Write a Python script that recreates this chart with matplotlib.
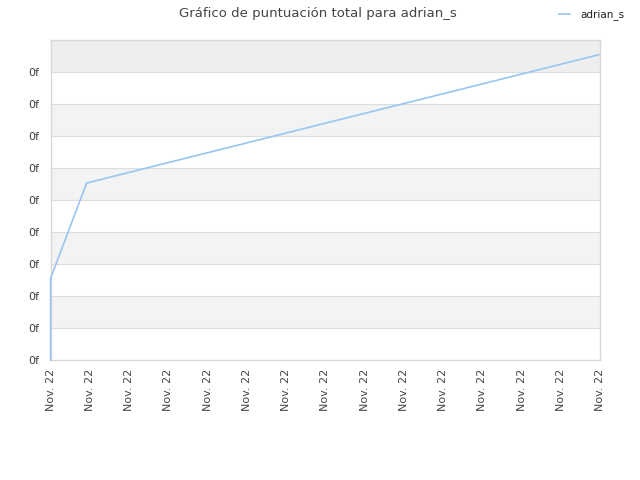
import matplotlib
matplotlib.use("Agg")
import matplotlib.pyplot as plt

# datos
tick_labels = ["Nov. 22"] * 15
y_tick_labels = ["0f"] * 10
puntos_x = [0, 0, 0.92, 13.97]
puntos_y = [0, 2.55, 5.53, 9.54]
serie = "adrian_s"

fig = plt.figure(figsize=(6.4, 4.8), dpi=100)
ax = fig.add_axes([0.079, 0.25, 0.8585, 0.6667])

# bandas alternas
for i in range(10):
    if i == 9:
        color = "#eeeeee"
    elif i % 2 == 1:
        color = "#f3f3f3"
    else:
        color = "#ffffff"
    ax.axhspan(i, i + 1, color=color, zorder=0, lw=0)
for i in range(1, 10):
    ax.axhline(i, color="#dddddd", lw=0.8, zorder=1)

ax.plot(puntos_x, puntos_y, color="#99c5f0", lw=1.2, zorder=4,
        label=serie, clip_on=False)

ax.set_xlim(0, 14)
ax.set_ylim(0, 10)
ax.set_xticks(range(len(tick_labels)))
ax.set_xticklabels(tick_labels, rotation=90, fontsize=8, color="#444444")
ax.set_yticks(range(len(y_tick_labels)))
ax.set_yticklabels(y_tick_labels, fontsize=8, color="#444444")
ax.tick_params(length=0, pad=8)
ax.tick_params(axis="x", pad=6)
for s in ax.spines.values():
    s.set_color("#d8d8d8")
    s.set_linewidth(1)
    s.set_zorder(2)

fig.text(0.497, 0.972, "Gráfico de puntuación total para adrian_s",
         ha="center", va="center", fontsize=9.5, color="#444444")
leg = fig.legend(loc="upper right", bbox_to_anchor=(0.99, 1.0), frameon=False,
                 fontsize=7.5, handlelength=1.0, handletextpad=1.0)
for t in leg.get_texts():
    t.set_color("#222222")

fig.savefig("out.png", dpi=100)
